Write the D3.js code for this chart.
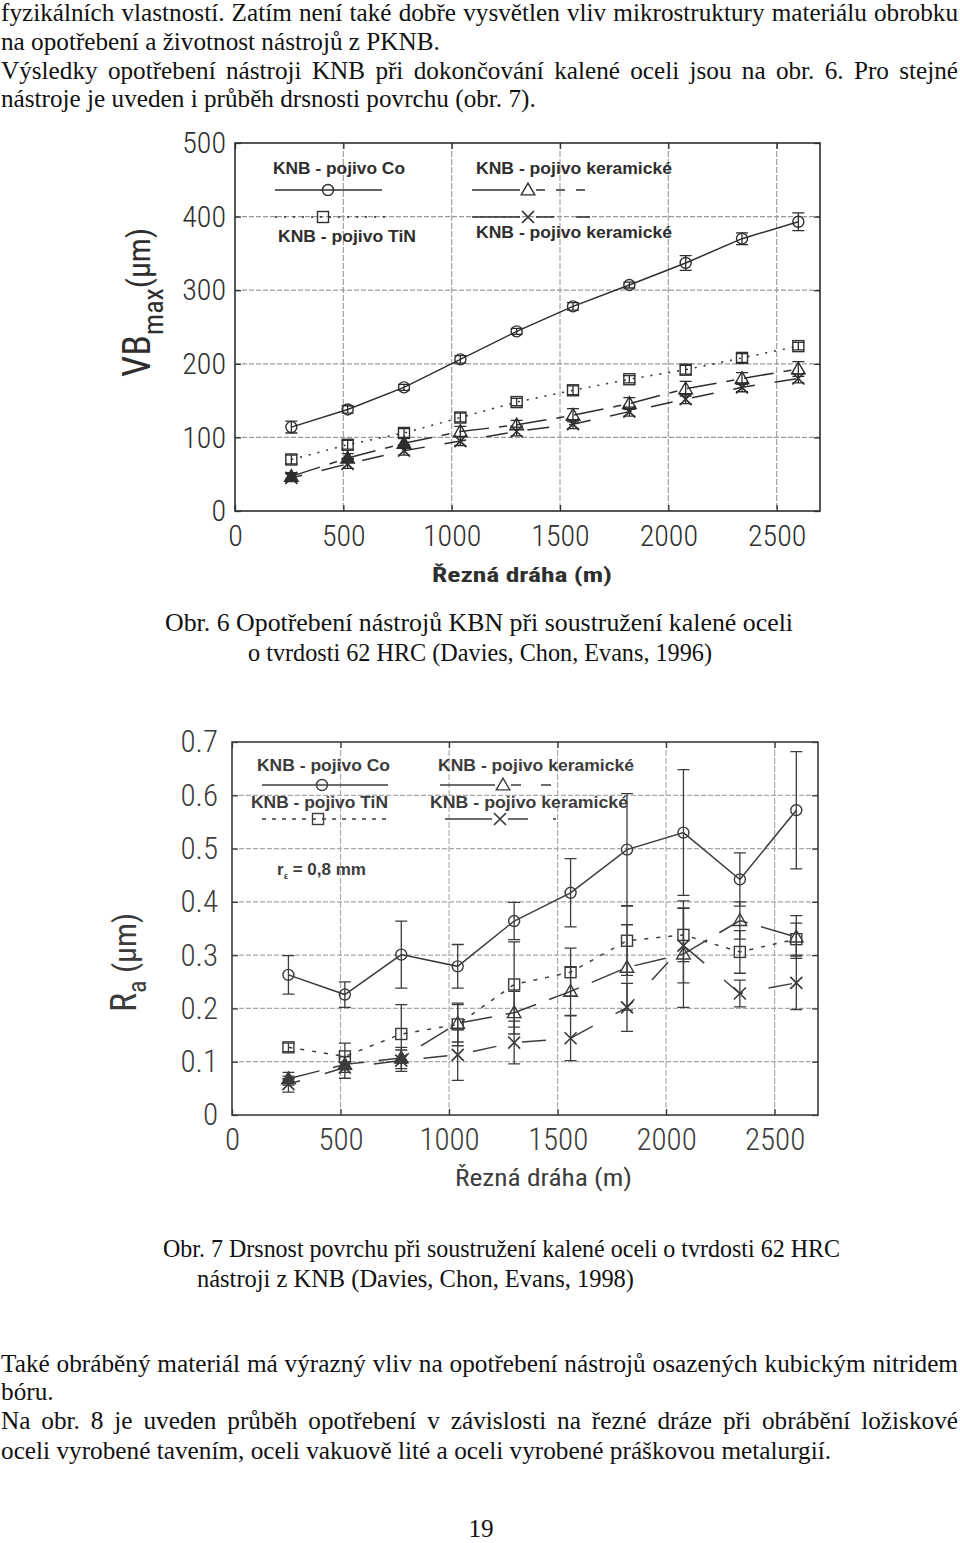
<!DOCTYPE html>
<html>
<head>
<meta charset="utf-8">
<script src="https://cdn.jsdelivr.net/npm/d3@7"></script>
<style>
  html, body { margin: 0; padding: 0; background: #fff; }
  svg { display: block; }
</style>
</head>
<body>
<svg id="page" width="960" height="1543"></svg>
<script>
// ---------------- DATA ----------------
const cuttingPath = [260, 520, 780, 1040, 1300, 1560, 1820, 2080, 2340, 2600];

// Obr. 6  VBmax (µm)
const wearCo      = [114, 138, 168, 206, 244, 278, 307, 337, 370, 393];
const wearCoErr   = [8, 5, 4, 5, 4, 5, 4, 10, 8, 12];
const wearTiN     = [70, 90, 106, 127, 148, 164, 179, 192, 208, 224];
const wearTiNErr  = [6, 6, 6, 6, 5, 6, 5, 6, 6, 5];
const wearCer1    = [47, 72, 92, 108, 117, 130, 146, 166, 180, 193];
const wearCer1Err = [5, 6, 7, 7, 6, 9, 8, 10, 8, 10];
const wearCer2    = [45, 64, 82, 95, 108, 118, 135, 152, 168, 180];
const wearCer2Err = [5, 6, 6, 6, 6, 6, 6, 6, 6, 6];

// Obr. 7  Ra (µm)
const raCo      = [0.263, 0.226, 0.301, 0.279, 0.364, 0.417, 0.498, 0.530, 0.442, 0.572];
const raCoErr   = [0.036, 0.024, 0.063, 0.041, 0.035, 0.064, 0.105, 0.118, 0.050, 0.110];
const raTiN     = [0.127, 0.110, 0.152, 0.170, 0.245, 0.268, 0.327, 0.338, 0.306, 0.330];
const raTiNErr  = [0.008, 0.025, 0.055, 0.040, 0.080, 0.045, 0.065, 0.050, 0.040, 0.030];
const raCer1    = [0.068, 0.095, 0.107, 0.172, 0.192, 0.232, 0.277, 0.302, 0.365, 0.334];
const raCer1Err = [0.012, 0.015, 0.020, 0.035, 0.040, 0.045, 0.080, 0.100, 0.035, 0.040];
const raCer2    = [0.058, 0.089, 0.102, 0.113, 0.136, 0.144, 0.202, 0.318, 0.228, 0.248];
const raCer2Err = [0.015, 0.020, 0.020, 0.048, 0.040, 0.042, 0.045, 0.070, 0.025, 0.050];

const xTicks = [0, 500, 1000, 1500, 2000, 2500];
const xTickLabels = ["0", "500", "1000", "1500", "2000", "2500"];
const yTicks1 = [0, 100, 200, 300, 400, 500];
const yTickLabels1 = ["0", "100", "200", "300", "400", "500"];
const yTicks2 = [0, 0.1, 0.2, 0.3, 0.4, 0.5, 0.6, 0.7];
const yTickLabels2 = ["0", "0.1", "0.2", "0.3", "0.4", "0.5", "0.6", "0.7"];

const legendNames = ["KNB - pojivo Co", "KNB - pojivo keramické", "KNB - pojivo TiN", "KNB - pojivo keramické"];

// ---------------- PAGE ----------------
const svg = d3.select("#page");
svg.append("rect").attr("width", 960).attr("height", 1543).attr("fill", "#fff");

const SERIF = "Liberation Serif, Times New Roman, serif";
const COND = "Roboto Condensed, Liberation Sans, sans-serif";
const SANS = "Liberation Sans, Arial, sans-serif";

function measure(text, size, family, weight) {
  const t = svg.append("text").attr("font-family", family).attr("font-size", size)
    .attr("font-weight", weight || "normal").text(text);
  const w = t.node().getComputedTextLength();
  t.remove();
  return w;
}

// lines: [text, baseline, justify]; size from font, sx horizontal squeeze
function paragraph(lines, size, sx) {
  lines.forEach(([txt, y, just]) => {
    const g = svg.append("g").attr("transform", `translate(1,${y}) scale(${sx},1)`);
    if (!just) {
      g.append("text").attr("font-family", SERIF).attr("font-size", size).attr("fill", "#111").text(txt);
    } else {
      const words = txt.split(" ").filter(w => w.length);
      const ws = words.map(w => measure(w, size, SERIF));
      const inner = 957 / sx;
      const gap = (inner - d3.sum(ws)) / (words.length - 1);
      let x = 0;
      words.forEach((w, i) => {
        g.append("text").attr("x", x).attr("font-family", SERIF).attr("font-size", size).attr("fill", "#111").text(w);
        x += ws[i] + gap;
      });
    }
  });
}

// paragraph 1: normal Times; size chosen so that last line matches its width
const p1Last = "nástroje je uveden i průběh drsnosti povrchu (obr. 7).";
const p1Size = 24 * 535 / measure(p1Last, 24, SERIF);
paragraph([
  ["fyzikálních vlastností. Zatím není také dobře vysvětlen vliv mikrostruktury materiálu obrobku", 21, true],
  ["na opotřebení a životnost nástrojů z PKNB.", 50, false],
  ["Výsledky opotřebení nástroji KNB při dokončování kalené oceli jsou na obr. 6. Pro stejné", 79, true],
  [p1Last, 107, false]
], p1Size, 1);

// paragraph 2: condensed Times, same height
const p2Last = "oceli vyrobené tavením, oceli vakuově lité a oceli vyrobené práškovou metalurgií.";
const p2sx = 830 / measure(p2Last, p1Size, SERIF);
paragraph([
  ["Také obráběný materiál má výrazný vliv na opotřebení nástrojů osazených kubickým nitridem", 1372, true],
  ["bóru.", 1400, false],
  ["Na obr. 8  je uveden průběh opotřebení v závislosti na řezné dráze při obrábění ložiskové", 1429, true],
  [p2Last, 1459, false]
], p1Size, p2sx);

function fitText(txt, x, y, w, size, family, fill, weight) {
  return svg.append("text").attr("x", x).attr("y", y).attr("font-family", family).attr("font-size", size)
    .attr("fill", fill || "#111").attr("font-weight", weight || "normal")
    .attr("textLength", w).attr("lengthAdjust", "spacingAndGlyphs").text(txt);
}
fitText("Obr. 6   Opotřebení nástrojů KBN při soustružení kalené oceli", 165, 631, 628, p1Size, SERIF);
fitText("o tvrdosti 62 HRC (Davies, Chon, Evans, 1996)", 248, 661, 464, p1Size, SERIF);
fitText("Obr. 7  Drsnost povrchu při soustružení kalené oceli o tvrdosti 62 HRC", 163, 1257, 677, p1Size, SERIF);
fitText("nástroji z KNB (Davies, Chon, Evans, 1998)", 197, 1287, 437, p1Size, SERIF);
svg.append("text").attr("x", 481).attr("y", 1537).attr("text-anchor", "middle").attr("font-family", SERIF)
  .attr("font-size", p1Size).attr("fill", "#111").text("19");

// ---------------- CHART HELPERS ----------------
function symbol(g, type, cx, cy, col, filled) {
  const sw = 1.4;
  if (type === "circle") {
    g.append("circle").attr("cx", cx).attr("cy", cy).attr("r", 5.5).attr("fill", "none").attr("stroke", col).attr("stroke-width", sw);
  } else if (type === "square") {
    g.append("rect").attr("x", cx - 5.5).attr("y", cy - 5.5).attr("width", 11).attr("height", 11).attr("fill", "none").attr("stroke", col).attr("stroke-width", sw);
  } else if (type === "triangle") {
    g.append("path").attr("d", d3.symbol(d3.symbolTriangle, 80)()).attr("transform", `translate(${cx},${cy + 1})`)
      .attr("fill", filled ? col : "none").attr("stroke", col).attr("stroke-width", sw);
  } else {
    g.append("path").attr("d", `M${cx - 6},${cy - 6}L${cx + 6},${cy + 6}M${cx - 6},${cy + 6}L${cx + 6},${cy - 6}`)
      .attr("stroke", col).attr("stroke-width", sw + 0.3).attr("fill", "none");
  }
}

function drawChart(cfg) {
  const { left, right, top, bottom, yMax, yTicks, yLabels, yPad, xPad, series, col, gridCol, tickSize } = cfg;
  const x = d3.scaleLinear().domain([0, 2700]).range([left, right]);
  const y = d3.scaleLinear().domain([0, yMax]).range([bottom, top]);
  const g = svg.append("g");

  // grid
  g.selectAll(".hg").data(yTicks.slice(1, -1)).join("line")
    .attr("x1", left).attr("x2", right).attr("y1", d => y(d)).attr("y2", d => y(d))
    .attr("stroke", gridCol).attr("stroke-width", 1.2).attr("stroke-dasharray", "5,2");
  g.selectAll(".vg").data(xTicks.slice(1)).join("line")
    .attr("y1", top).attr("y2", bottom).attr("x1", d => x(d)).attr("x2", d => x(d))
    .attr("stroke", gridCol).attr("stroke-width", 1.1).attr("stroke-dasharray", "6,2");

  // axes
  const ax = g.append("g").attr("transform", `translate(0,${bottom})`)
    .call(d3.axisBottom(x).tickValues(xTicks).tickSize(-6).tickPadding(xPad).tickFormat((d, i) => xTickLabels[i]));
  const ay = g.append("g").attr("transform", `translate(${left},0)`)
    .call(d3.axisLeft(y).tickValues(yTicks).tickSize(-6).tickPadding(yPad).tickFormat((d, i) => yLabels[i]));
  g.append("g").attr("transform", `translate(${right},0)`)
    .call(d3.axisRight(y).tickValues(yTicks).tickSize(-6).tickFormat(""));
  g.append("g").attr("transform", `translate(0,${top})`)
    .call(d3.axisTop(x).tickValues(xTicks).tickSize(-6).tickFormat(""));
  g.selectAll(".domain").remove();
  g.selectAll(".tick line").attr("stroke", col).attr("stroke-width", 1.3);
  [ax, ay].forEach(a => a.selectAll("text").attr("font-family", COND).attr("font-size", tickSize)
    .attr("fill", col).attr("font-weight", 300));

  g.append("rect").attr("x", left).attr("y", top).attr("width", right - left).attr("height", bottom - top)
    .attr("fill", "none").attr("stroke", col).attr("stroke-width", 1.6);

  // series
  series.forEach(s => {
    const pts = cuttingPath.map((d, i) => [x(d), y(s.values[i])]);
    g.append("path").attr("d", d3.line()(pts)).attr("fill", "none").attr("stroke", col)
      .attr("stroke-width", 1.5).attr("stroke-dasharray", s.dash || null).attr("stroke-dashoffset", s.offset || 0);
    cuttingPath.forEach((d, i) => {
      const v = s.values[i], e = s.err[i];
      const y1 = y(v - e), y2 = y(v + e), cx = x(d);
      g.append("path").attr("d", `M${cx},${y1}V${y2}M${cx - 6},${y1}H${cx + 6}M${cx - 6},${y2}H${cx + 6}`)
        .attr("stroke", col).attr("stroke-width", 1.3).attr("fill", "none");
      symbol(g, s.type, cx, y(v), col, s.filledFirst && i < 3);
    });
  });
  return { x, y, g };
}

function legendRow(g, type, x1, x2, mx, y, dash, col) {
  if (type === "triangle" || type === "cross") {
    g.append("line").attr("x1", x1).attr("x2", mx - 8).attr("y1", y).attr("y2", y).attr("stroke", col).attr("stroke-width", 1.5);
    g.append("line").attr("x1", mx + 8).attr("x2", x2).attr("y1", y).attr("y2", y).attr("stroke", col).attr("stroke-width", 1.5)
      .attr("stroke-dasharray", dash);
  } else {
    g.append("line").attr("x1", x1).attr("x2", x2).attr("y1", y).attr("y2", y).attr("stroke", col).attr("stroke-width", 1.5)
      .attr("stroke-dasharray", dash || null);
  }
  symbol(g, type, mx, y, col, false);
}

// ---------------- CHART 1 ----------------
const c1col = "#2e2e2e";
const c1 = drawChart({
  left: 235, right: 820, top: 143, bottom: 511, yMax: 500, tickSize: 30,
  yTicks: yTicks1, yLabels: yTickLabels1, yPad: 9, xPad: 14, col: c1col, gridCol: "#9a9a9a",
  series: [
    { values: wearCo, err: wearCoErr, type: "circle" },
    { values: wearTiN, err: wearTiNErr, type: "square", dash: "2,7" },
    { values: wearCer1, err: wearCer1Err, type: "triangle", dash: "30,10,8,10", filledFirst: true },
    { values: wearCer2, err: wearCer2Err, type: "cross", dash: "22,20", offset: 11 }
  ]
});

fitText(legendNames[0], 273, 174, 132, 17, SANS, c1col, "bold");
fitText(legendNames[1], 476, 174, 196, 17, SANS, c1col, "bold");
fitText(legendNames[2], 278, 242, 138, 17, SANS, c1col, "bold");
fitText(legendNames[3], 476, 238, 196, 17, SANS, c1col, "bold");
legendRow(c1.g, "circle", 275, 382, 328, 190, null, c1col);
legendRow(c1.g, "triangle", 472, 590, 528, 190, "9,11", c1col);
legendRow(c1.g, "square", 275, 386, 323, 217, "2,7", c1col);
legendRow(c1.g, "cross", 472, 590, 528, 217, "18,22", c1col);

fitText("Řezná dráha (m)", 432, 582, 180, 20, COND, c1col, "bold");
const yt1 = svg.append("text").attr("transform", "translate(150,377) rotate(-90)")
  .attr("font-family", COND).attr("fill", c1col);
yt1.append("tspan").attr("font-size", 38).text("VB");
yt1.append("tspan").attr("font-size", 28).attr("dy", 13).text("max");
yt1.append("tspan").attr("font-size", 32).attr("dy", -13).text("(μm)");

// ---------------- CHART 2 ----------------
const c2col = "#3c3c3c";
const c2 = drawChart({
  left: 232, right: 818, top: 742, bottom: 1115, yMax: 0.7, tickSize: 31,
  yTicks: yTicks2, yLabels: yTickLabels2, yPad: 14, xPad: 13, col: c2col, gridCol: "#a8a8a8",
  series: [
    { values: raCo, err: raCoErr, type: "circle" },
    { values: raTiN, err: raTiNErr, type: "square", dash: "4,8" },
    { values: raCer1, err: raCer1Err, type: "triangle", dash: "32,14", filledFirst: true },
    { values: raCer2, err: raCer2Err, type: "cross", dash: "24,26", offset: 12 }
  ]
});

fitText(legendNames[0], 257, 771, 133, 17, SANS, c2col, "bold");
fitText(legendNames[1], 438, 771, 196, 17, SANS, c2col, "bold");
fitText(legendNames[2], 251, 808, 137, 17, SANS, c2col, "bold");
fitText(legendNames[3], 430, 808, 198, 17, SANS, c2col, "bold");
legendRow(c2.g, "circle", 262, 388, 322, 785, null, c2col);
legendRow(c2.g, "triangle", 440, 556, 503, 785, "10,20", c2col);
legendRow(c2.g, "square", 262, 386, 318, 819, "4,6", c2col);
legendRow(c2.g, "cross", 445, 556, 500, 819, "20,25", c2col);

const rt = svg.append("text").attr("x", 277).attr("y", 875).attr("font-family", SANS).attr("font-weight", "bold")
  .attr("font-size", 17).attr("fill", c2col);
rt.append("tspan").text("r");
rt.append("tspan").attr("font-size", 9).attr("dy", 4).text("ε");
rt.append("tspan").attr("dy", -4).text(" = 0,8 mm");

fitText("Řezná dráha  (m)", 455, 1186, 177, 23, COND, c2col, "normal");
const yt2 = svg.append("text").attr("transform", "translate(136,1012) rotate(-90)")
  .attr("font-family", COND).attr("fill", c2col);
yt2.append("tspan").attr("font-size", 36).text("R");
yt2.append("tspan").attr("font-size", 26).attr("dy", 10).text("a");
yt2.append("tspan").attr("font-size", 32).attr("dy", -10).text(" (μm)");
</script>
</body>
</html>
